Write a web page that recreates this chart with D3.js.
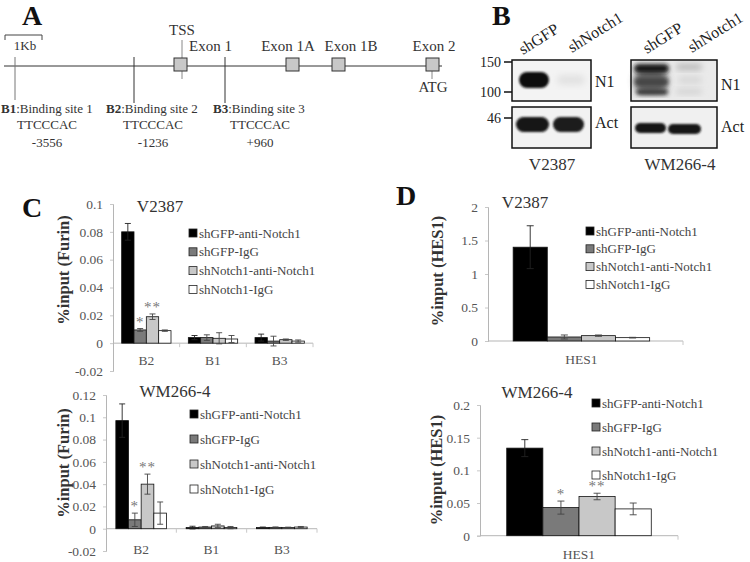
<!DOCTYPE html>
<html><head><meta charset="utf-8">
<script src="https://cdn.jsdelivr.net/npm/d3@7"></script>
<style>body{margin:0;background:#fff} svg{display:block} svg text{font-family:'Liberation Serif','DejaVu Serif',serif !important}</style>
</head><body>
<script>
// ---------------- DATA ----------------
const seriesNames = ["shGFP-anti-Notch1", "shGFP-IgG", "shNotch1-anti-Notch1", "shNotch1-IgG"];
const seriesColors = ["#000000", "#7a7a7a", "#c8c8c8", "#ffffff"];

const furinSites = ["B2", "B1", "B3"];
// values[series][site]
const furinV2387 = [[0.080, 0.004, 0.004], [0.0095, 0.004, 0.0015], [0.019, 0.0035, 0.0025], [0.009, 0.003, 0.0015]];
const furinV2387Err = [[0.006, 0.0015, 0.0025], [0.001, 0.002, 0.0035], [0.002, 0.004, 0.0005], [0.0005, 0.0025, 0.0008]];
const furinWM = [[0.097, 0.001, 0.001], [0.008, 0.0015, 0.0012], [0.040, 0.0025, 0.001], [0.014, 0.001, 0.0015]];
const furinWMErr = [[0.015, 0.0012, 0.0005], [0.006, 0.0005, 0.0004], [0.009, 0.0015, 0.0004], [0.010, 0.001, 0.0005]];

const hesGenes = ["HES1"];
const hesV2387 = [[1.40], [0.06], [0.08], [0.05]];
const hesV2387Err = [[0.32], [0.03], [0.01], [0.005]];
const hesWM = [[0.134], [0.043], [0.060], [0.041]];
const hesWMErr = [[0.013], [0.010], [0.005], [0.009]];

const furinTicksV = [-0.02, 0, 0.02, 0.04, 0.06, 0.08, 0.1];
const furinTicksW = [-0.02, 0, 0.02, 0.04, 0.06, 0.08, 0.1, 0.12];
const hesTicksV = [0, 0.5, 1, 1.5, 2];
const hesTicksW = [0, 0.05, 0.1, 0.15, 0.2];

// stars: [series index, category index, label]
const starMarks = [[1, 0, "*"], [2, 0, "**"]];

// ---------------- SVG ----------------
const W = 750, H = 562;
const SERIF = "Liberation Serif, DejaVu Serif, serif";
const svg = d3.select("body").append("svg").attr("width", W).attr("height", H).attr("font-family", SERIF);
const defs = svg.append("defs");
[["b1", 1.2], ["b2", 2.2], ["b3", 3]].forEach(([id, s]) => {
  defs.append("filter").attr("id", id).attr("x", "-50%").attr("y", "-50%").attr("width", "200%").attr("height", "200%")
    .append("feGaussianBlur").attr("stdDeviation", s);
});

// panel letters
[["A", 22, 25], ["B", 492, 25], ["C", 22, 217], ["D", 396, 205]].forEach(([t, x, y]) => {
  svg.append("text").attr("x", x).attr("y", y).attr("font-size", 28).attr("font-weight", "bold").attr("fill", "#111").text(t);
});

// ---------------- PANEL A ----------------
const A = svg.append("g");
const tA = (x, y, s, anchor = "middle", size = 15) =>
  A.append("text").attr("x", x).attr("y", y).attr("text-anchor", anchor).attr("font-size", size).attr("fill", "#333").text(s);
A.append("line").attr("x1", 4).attr("x2", 442).attr("y1", 66).attr("y2", 66).attr("stroke", "#333");
A.append("path").attr("d", "M5,40V35H42V40").attr("fill", "none").attr("stroke", "#444");
tA(25, 50, "1Kb", "middle", 13);
A.append("line").attr("x1", 15).attr("x2", 15).attr("y1", 57).attr("y2", 100).attr("stroke", "#777");
A.append("line").attr("x1", 134).attr("x2", 134).attr("y1", 57).attr("y2", 103).attr("stroke", "#333");
A.append("line").attr("x1", 225).attr("x2", 225).attr("y1", 57).attr("y2", 103).attr("stroke", "#333");
A.append("line").attr("x1", 182).attr("x2", 182).attr("y1", 40).attr("y2", 79).attr("stroke", "#888");
A.append("line").attr("x1", 432).attr("x2", 432).attr("y1", 71).attr("y2", 79).attr("stroke", "#888");
[[174], [286], [332], [426]].forEach(([x]) => {
  A.append("rect").attr("x", x).attr("y", 58).attr("width", 13).attr("height", 13).attr("fill", "#c8c8c8").attr("stroke", "#333");
});
tA(182, 35, "TSS");
tA(189, 51, "Exon 1", "start");
tA(288, 51, "Exon 1A");
tA(351, 51, "Exon 1B");
tA(434, 51, "Exon 2");
tA(433, 92, "ATG");
[[1, 47, "B1", ":Binding site 1", "-3556"], [106, 153, "B2", ":Binding site 2", "-1236"], [213, 260, "B3", ":Binding site 3", "+960"]]
  .forEach(([x0, cx, b, rest, pos]) => {
    const t = A.append("text").attr("x", x0).attr("y", 113).attr("font-size", 13).attr("fill", "#333");
    t.append("tspan").attr("font-weight", "bold").text(b);
    t.append("tspan").text(rest);
    tA(cx, 129, "TTCCCAC", "middle", 13);
    tA(cx, 147, pos, "middle", 13);
  });

// ---------------- PANEL B ----------------
const B = svg.append("g");
const boxes = [[512, 60, 79, 41, "#f3f3f3"], [512, 107, 79, 41, "#f2f2f2"], [631, 60, 86, 41, "#eaeaea"], [631, 107, 86, 41, "#f0f0f0"]];
boxes.forEach(([x, y, w, h, f]) => B.append("rect").attr("x", x).attr("y", y).attr("width", w).attr("height", h).attr("fill", f));
const band = (x, y, w, h, fill, f) => B.append("rect").attr("x", x).attr("y", y).attr("width", w).attr("height", h)
  .attr("rx", h / 2).attr("fill", fill).attr("filter", `url(#${f})`);
band(519, 72, 30, 16, "#111", "b1");
band(557, 75, 28, 10, "#e2e2e2", "b3");
band(516, 117, 33, 15, "#141414", "b1");
band(553, 117, 31, 15, "#1a1a1a", "b1");
band(634, 70, 34, 22, "#666", "b3");
band(634, 64, 35, 9, "#151515", "b2");
band(635, 78, 33, 8, "#444", "b2");
band(636, 89, 32, 6, "#333", "b2");
band(676, 64, 26, 6, "#b5b5b5", "b3");
band(678, 76, 24, 8, "#d8d8d8", "b3");
band(676, 89, 26, 5, "#cfcfcf", "b3");
band(635, 123, 31, 10, "#161616", "b1");
band(668, 124, 33, 10, "#161616", "b1");
boxes.forEach(([x, y, w, h]) => B.append("rect").attr("x", x).attr("y", y).attr("width", w).attr("height", h)
  .attr("fill", "none").attr("stroke", "#111").attr("stroke-width", 1.5));
[[62, "150"], [92, "100"], [118, "46"]].forEach(([y, t]) => {
  B.append("line").attr("x1", 504).attr("x2", 512).attr("y1", y).attr("y2", y).attr("stroke", "#111").attr("stroke-width", 1.5);
  B.append("text").attr("x", 501).attr("y", y).attr("dy", "0.35em").attr("text-anchor", "end").attr("font-size", 14).attr("fill", "#222").text(t);
});
[[595, 81, "N1"], [595, 122, "Act"], [721, 84, "N1"], [721, 126, "Act"]].forEach(([x, y, t]) =>
  B.append("text").attr("x", x).attr("y", y).attr("dy", "0.35em").attr("font-size", 16).attr("fill", "#222").text(t));
[[523, 55, "shGFP"], [572, 53, "shNotch1"], [647, 54, "shGFP"], [692, 53, "shNotch1"]].forEach(([x, y, t]) =>
  B.append("text").attr("transform", `translate(${x},${y}) rotate(-32)`).attr("font-size", 16).attr("fill", "#222").text(t));
[[552, 170, "V2387"], [680, 170, "WM266-4"]].forEach(([x, y, t]) =>
  B.append("text").attr("x", x).attr("y", y).attr("text-anchor", "middle").attr("font-size", 17).attr("fill", "#333").text(t));

// ---------------- BAR CHARTS ----------------
const fmt = d => String(+d.toFixed(3));
function barChart(cfg) {
  const g = svg.append("g");
  const y = d3.scaleLinear().domain(cfg.domain).range([cfg.yBot, cfg.yTop]);
  const x = d3.scaleBand().domain(cfg.cats).range([cfg.x0, cfg.x1]).paddingInner(cfg.pad).paddingOuter(cfg.pad / 2)
    .align(cfg.align == null ? 0.5 : cfg.align);
  const xs = d3.scaleBand().domain(d3.range(seriesNames.length)).range([0, x.bandwidth()]);

  // y axis
  const ax = g.append("g").attr("transform", `translate(${cfg.x0},0)`)
    .call(d3.axisLeft(y).tickValues(cfg.ticks).tickFormat(fmt).tickSize(3).tickPadding(7))
    .attr("font-family", SERIF);
  ax.select(".domain").attr("stroke", "#b5b5b5");
  ax.selectAll(".tick line").attr("stroke", "#c8c8c8");
  ax.selectAll(".tick text").attr("font-size", 13.5).attr("fill", "#555");

  // zero line and category separators
  const y0 = y(0);
  g.append("line").attr("x1", cfg.x0).attr("x2", cfg.x1).attr("y1", y0).attr("y2", y0).attr("stroke", "#b5b5b5");
  const bounds = cfg.cats.map((c, i) => cfg.x0 + (i + 1) * (cfg.x1 - cfg.x0) / cfg.cats.length);
  g.selectAll(".sep").data(bounds).join("line").attr("x1", d => d).attr("x2", d => d)
    .attr("y1", y0).attr("y2", y0 + 4).attr("stroke", "#c8c8c8");
  g.selectAll(".cat").data(cfg.cats).join("text")
    .attr("x", d => x(d) + x.bandwidth() / 2).attr("y", y0 + cfg.catDy)
    .attr("text-anchor", "middle").attr("font-size", 13.5).attr("fill", "#555").text(d => d);

  // bars
  cfg.values.forEach((vals, s) => {
    g.selectAll(null).data(vals).join("rect")
      .attr("x", (d, i) => x(cfg.cats[i]) + xs(s)).attr("width", xs.bandwidth())
      .attr("y", d => y(d)).attr("height", d => y0 - y(d))
      .attr("fill", seriesColors[s]).attr("stroke", "#111").attr("stroke-width", 0.8);
  });
  // error bars
  cfg.values.forEach((vals, s) => {
    vals.forEach((v, i) => {
      const e = cfg.errs[s][i];
      const cx = x(cfg.cats[i]) + xs(s) + xs.bandwidth() / 2;
      const hw = cfg.cap / 2;
      g.append("path").attr("d", `M${cx},${y(v - e)}V${y(v + e)}M${cx - hw},${y(v + e)}H${cx + hw}M${cx - hw},${y(v - e)}H${cx + hw}`)
        .attr("stroke", s === 0 ? "#222" : "#444").attr("stroke-width", 0.9).attr("fill", "none");
    });
  });
  // stars
  (cfg.stars || []).forEach(([s, i, lab]) => {
    const v = cfg.values[s][i], e = cfg.errs[s][i];
    g.append("text").attr("x", x(cfg.cats[i]) + xs(s) + xs.bandwidth() / 2).attr("y", y(v + e) - 2)
      .attr("text-anchor", "middle").attr("font-size", 15).attr("letter-spacing", 1).attr("fill", "#777").text(lab);
  });
  // title
  g.append("text").attr("x", cfg.title[1]).attr("y", cfg.title[2]).attr("text-anchor", "middle")
    .attr("font-size", 17).attr("fill", "#333").text(cfg.title[0]);
  // y label
  g.append("text").attr("transform", `translate(${cfg.ylab[1]},${cfg.ylab[2]}) rotate(-90)`)
    .attr("text-anchor", "middle").attr("dominant-baseline", "central")
    .attr("font-size", 16.5).attr("font-weight", "bold").attr("fill", "#333").text(cfg.ylab[0]);
  // legend
  seriesNames.forEach((n, s) => {
    const ly = cfg.leg[1] + s * cfg.leg[2];
    g.append("rect").attr("x", cfg.leg[0]).attr("y", ly - 4).attr("width", 8).attr("height", 8)
      .attr("fill", seriesColors[s]).attr("stroke", "#222").attr("stroke-width", 0.8);
    g.append("text").attr("x", cfg.leg[0] + 10).attr("y", ly).attr("dy", "0.35em")
      .attr("font-size", 13).attr("fill", "#444").text(n);
  });
}

barChart({cats: furinSites, values: furinV2387, errs: furinV2387Err, domain: [-0.02, 0.1], ticks: furinTicksV,
  x0: 113, x1: 313, yTop: 204, yBot: 371, pad: 0.26, cap: 6, catDy: 22, stars: starMarks,
  title: ["V2387", 160, 212], ylab: ["%input (Furin)", 63, 270], leg: [189, 233, 18.8]});
barChart({cats: furinSites, values: furinWM, errs: furinWMErr, domain: [-0.02, 0.12], ticks: furinTicksW,
  x0: 106, x1: 317, yTop: 395, yBot: 551, pad: 0.28, cap: 6, catDy: 25, stars: starMarks,
  title: ["WM266-4", 175, 397], ylab: ["%input (Furin)", 63, 463], leg: [190, 414, 25]});
barChart({cats: hesGenes, values: hesV2387, errs: hesV2387Err, domain: [0, 2], ticks: hesTicksV,
  x0: 488, x1: 683, yTop: 207, yBot: 341, pad: 0.3, align: 0.43, cap: 7, catDy: 23, stars: [],
  title: ["V2387", 525, 208], ylab: ["%input (HES1)", 437, 271], leg: [586, 231, 17.8]});
barChart({cats: hesGenes, values: hesWM, errs: hesWMErr, domain: [0, 0.2], ticks: hesTicksW,
  x0: 480, x1: 678, yTop: 405, yBot: 535.7, pad: 0.27, cap: 7, catDy: 23, stars: starMarks,
  title: ["WM266-4", 537, 398], ylab: ["%input (HES1)", 436, 470], leg: [592, 403, 24]});
</script>
</body></html>
